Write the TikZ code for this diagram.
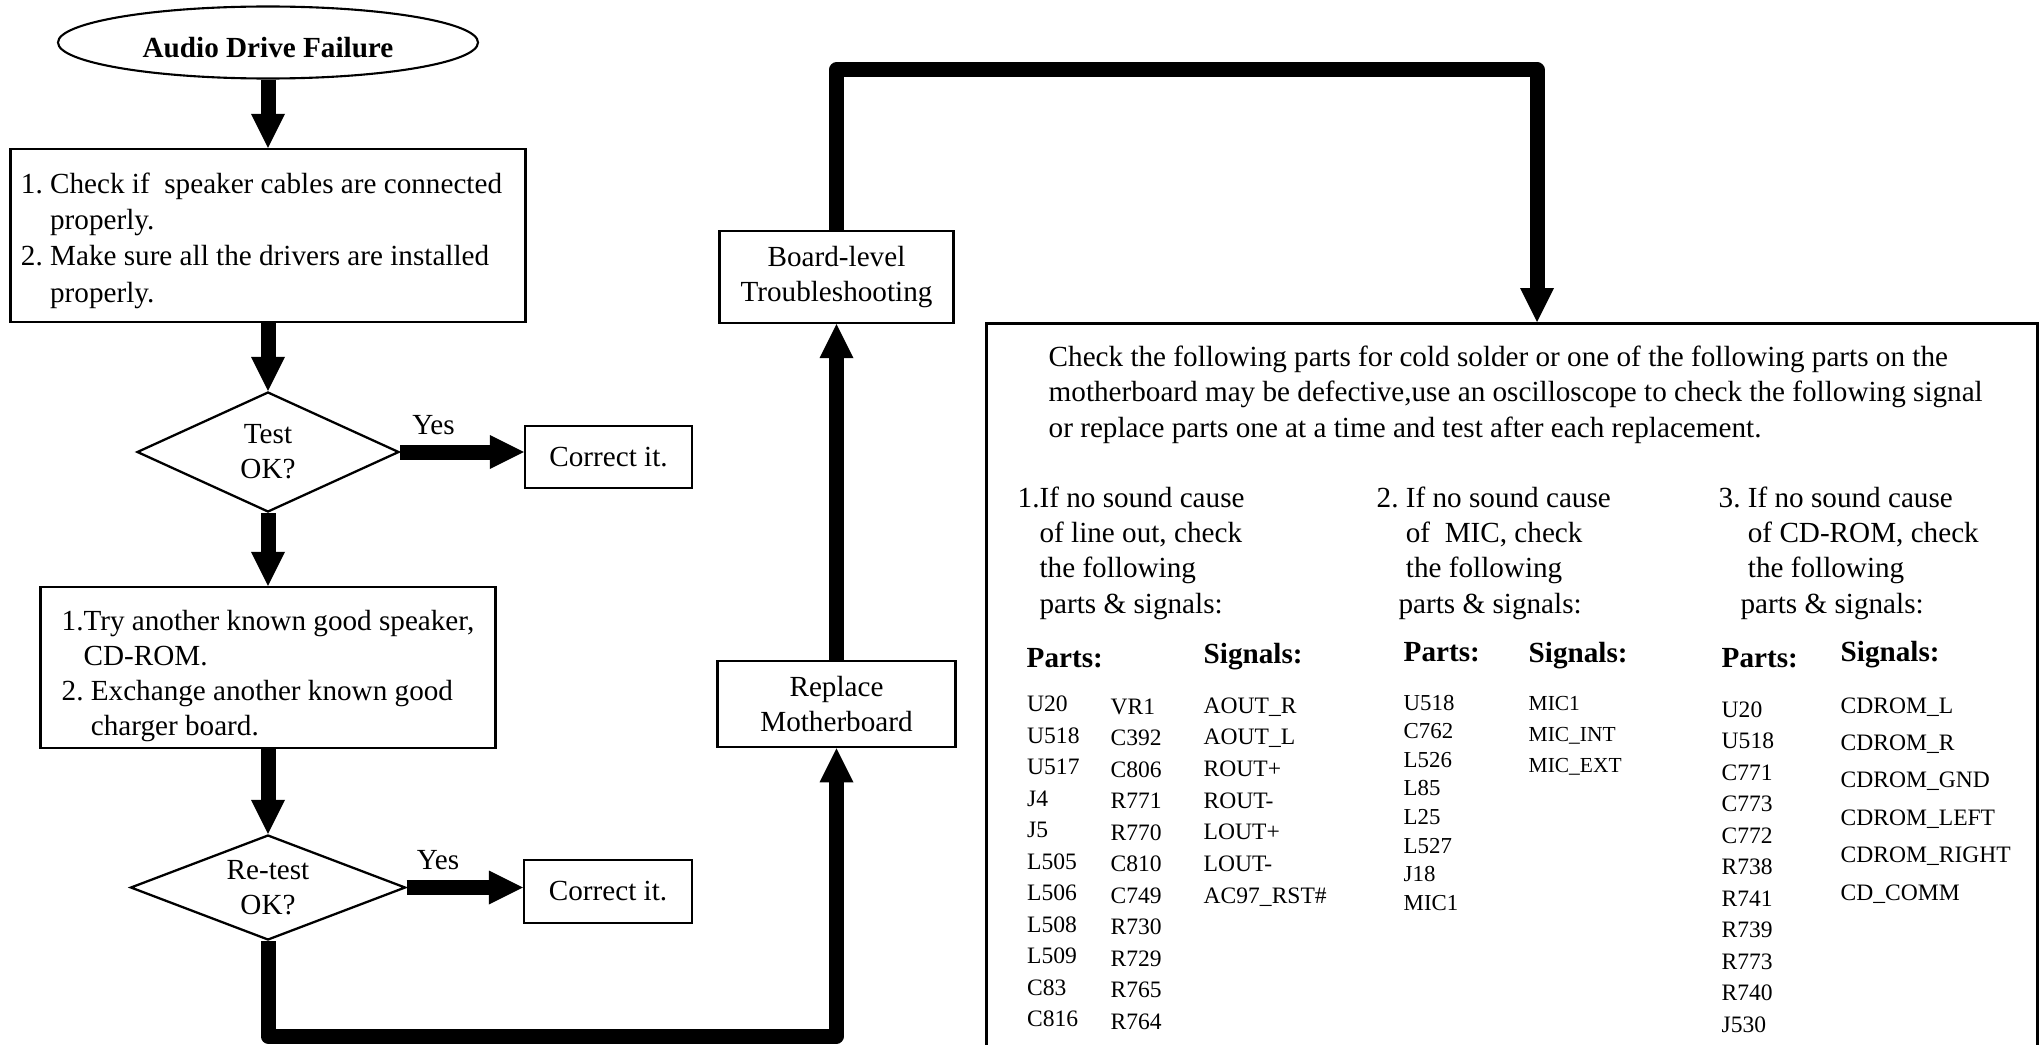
\documentclass[tikz,border=0pt]{standalone}
\usepackage{fontspec}
\setmainfont{Liberation Serif}
\usetikzlibrary{arrows.meta,shapes.geometric}

\begin{document}
\frenchspacing
\begin{tikzpicture}[font=\fontsize{8.3}{10}\selectfont,
  >={Triangle[width=0.34cm,length=0.34cm,line width=0pt]},
  box/.style={draw,line width=0.6pt,align=left,inner sep=0pt},
  cbox/.style={draw,line width=0.6pt,align=center,inner sep=0pt},
  decide/.style={diamond,draw,line width=0.65pt,align=center,inner sep=0pt,shape aspect=2.2},
  flow/.style={->,line width=0.15cm,line join=round},
  yes/.style={anchor=base,yshift=0.18cm,inner sep=0pt},
  txt/.style={anchor=base west,align=left,inner sep=0pt},
  hdr/.style={anchor=base west,inner sep=0pt,font=\fontsize{8.3}{10}\selectfont\bfseries},
  part/.style={anchor=base west,inner sep=0pt,font=\fontsize{6.7}{8}\selectfont}]
  \useasboundingbox (0,0) rectangle (20.42,10.44);
  \clip (0,0) rectangle (20.42,10.44);

  % left column
  \node[ellipse,draw,line width=0.6pt,minimum width=4.2cm,minimum height=0.72cm,inner sep=0pt,
    font=\fontsize{8.3}{10}\selectfont\bfseries] (start) at (2.68,10.015) {\rule{0pt}{0.3cm}Audio Drive Failure};
  \node[box,minimum width=5.15cm,minimum height=1.73cm,font=\fontsize{8.3}{10.3}\selectfont] (chk) at (2.68,8.085)
    {\rule{0pt}{0.31cm}1. Check if~ speaker cables are connected\hspace*{0.13cm}\\\phantom{1. }properly.\\2. Make sure all the drivers are installed\\\phantom{1. }properly.};
  \node[decide,minimum width=2.62cm,minimum height=1.2cm] (test) at (2.68,5.92) {Test\\OK?};
  \node[cbox,line width=0.5pt,minimum width=1.675cm,minimum height=0.62cm] (fix1) at (6.085,5.87) {Correct it.};
  \node[box,minimum width=4.55cm,minimum height=1.61cm] (try) at (2.68,3.765)
    {\rule{0pt}{0.37cm}1.Try another known good speaker,\\\phantom{1.}CD-ROM.\\2. Exchange another known good\\\phantom{2. }charger board.};
  \node[decide,minimum width=2.75cm,minimum height=1.05cm] (retest) at (2.68,1.565) {Re-test\\OK?};
  \node[cbox,line width=0.5pt,minimum width=1.685cm,minimum height=0.63cm] (fix2) at (6.08,1.525) {Correct it.};

  % middle column
  \node[cbox,minimum width=2.34cm,minimum height=0.923cm] (board) at (8.365,7.67) {Board-level\\Troubleshooting};
  \node[cbox,minimum width=2.38cm,minimum height=0.867cm] (replace) at (8.365,3.40) {Replace\\Motherboard};

  % parts box (text nodes sit on their last baseline)
  \node[draw,line width=0.8pt,anchor=north west,minimum width=10.51cm,minimum height=7.5cm] (check) at (9.85,7.22) {};
  \node[txt] (intro) at (10.48,6.07)
    {Check the following parts for cold solder or one of the following parts on the\\motherboard may be defective,use an oscilloscope to check the following signal\\or replace parts one at a time and test after each replacement.};
  \node[txt] (cause1) at (10.17,4.31) {1.If no sound cause\\\phantom{1.}of line out, check\\\phantom{1.}the following\\\phantom{1.}parts \& signals:};
  \node[txt] (cause2) at (13.76,4.31) {2. If no sound cause\\\phantom{2. }of~ MIC, check\\\phantom{2. }the following\\\phantom{2.}parts \& signals:};
  \node[txt] (cause3) at (17.18,4.31) {3. If no sound cause\\\phantom{3. }of CD-ROM, check\\\phantom{3. }the following\\\phantom{3.}parts \& signals:};

  \node[hdr] (parts1) at (10.26,3.763) {Parts:};
  \node[hdr] (sig1) at (12.03,3.81) {Signals:};
  \node[hdr] (parts2) at (14.03,3.823) {Parts:};
  \node[hdr] (sig2) at (15.28,3.813) {Signals:};
  \node[hdr] (parts3) at (17.21,3.763) {Parts:};
  \node[hdr] (sig3) at (18.40,3.823) {Signals:};

  \foreach \p [count=\i] in {U20,U518,U517,J4,J5,L505,L506,L508,L509,C83,C816}
    \node[part] (la\i) at (10.265,{3.323-0.315*(\i-1)}) {\p};
  \foreach \p [count=\i] in {VR1,C392,C806,R771,R770,C810,C749,R730,R729,R765,R764}
    \node[part] (lb\i) at (11.10,{3.30-0.315*(\i-1)}) {\p};
  \foreach \p [count=\i] in {AOUT\_R,AOUT\_L,ROUT+,ROUT-,LOUT+,LOUT-,AC97\_RST\#}
    \node[part] (sa\i) at (12.03,{3.31-0.317*(\i-1)}) {\p};
  \foreach \p [count=\i] in {U518,C762,L526,L85,L25,L527,J18,MIC1}
    \node[part,font=\fontsize{6.5}{8}\selectfont] (lc\i) at (14.03,{3.34-0.286*(\i-1)}) {\p};
  \foreach \p [count=\i] in {MIC1,MIC\_INT,MIC\_EXT}
    \node[part,font=\fontsize{6.1}{8}\selectfont] (sb\i) at (15.28,{3.34-0.31*(\i-1)}) {\p};
  \foreach \p [count=\i] in {U20,U518,C771,C773,C772,R738,R741,R739,R773,R740,J530}
    \node[part] (ld\i) at (17.21,{3.27-0.315*(\i-1)}) {\p};
  \foreach \p [count=\i] in {CDROM\_L,CDROM\_R,CDROM\_GND,CDROM\_LEFT,CDROM\_RIGHT,CD\_COMM}
    \node[part] (sc\i) at (18.40,{3.31-0.374*(\i-1)}) {\p};

  % connectors
  \coordinate (low) at (2.68,0.08);
  \coordinate (drop) at (15.37,9.74);
  \draw[flow] (start) -- (chk);
  \draw[flow] (chk) -- (test);
  \draw[flow] (test) -- (try);
  \draw[flow] (try) -- (retest);
  \draw[flow] (test.east) -- (test.east -| fix1.west) node[yes,pos=0.27] (yes1) {Yes};
  \draw[flow] (retest.east) -- (retest.east -| fix2.west) node[yes,pos=0.27] (yes2) {Yes};
  \draw[flow] (retest.south) -- (low) -| (replace.south);
  \draw[flow] (replace) -- (board);
  \draw[flow] (board.north) |- (drop) -- (drop |- check.north);
\end{tikzpicture}
\end{document}
